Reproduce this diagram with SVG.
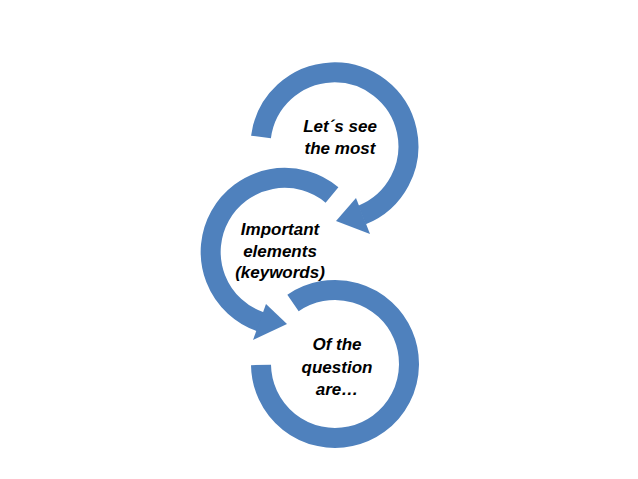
<svg xmlns="http://www.w3.org/2000/svg" width="638" height="479" viewBox="0 0 638 479">
<style>
.ring{fill:none;stroke:#4F81BD;stroke-width:20}
.head{fill:#4F81BD}
text{font-family:"Liberation Sans",Arial,sans-serif;font-size:17px;font-weight:bold;font-style:italic;fill:#000;text-anchor:middle}
</style>
<rect width="638" height="479" fill="#fff"/>
<g id="connectors">
<path class="ring" d="M261,137 A74,74 0 1 1 362,215"/>
<polygon class="head" points="356,198 370,234 336,221"/>
<path class="ring" d="M332,195 A74,74 0 1 0 261,322"/>
<polygon class="head" points="266,304 253,340 287,324"/>
<path class="ring" d="M293,303 A74,74 0 1 1 261,365"/>
</g>
<g id="n1"><text x="340" y="132">Let´s see</text><text x="340" y="154">the most</text></g>
<g id="n2"><text x="280" y="235">Important</text><text x="280" y="257">elements</text><text x="280" y="278">(keywords)</text></g>
<g id="n3"><text x="337" y="350">Of the</text><text x="337" y="373">question</text><text x="337" y="395">are…</text></g>
</svg>
